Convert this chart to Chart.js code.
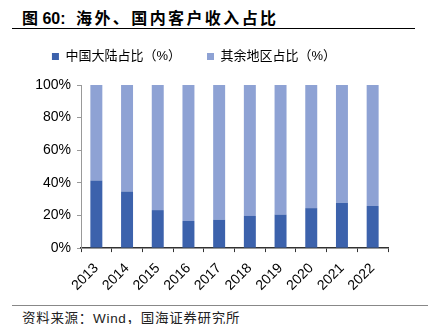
<!DOCTYPE html>
<html>
<head>
<meta charset="utf-8">
<script src="https://cdn.jsdelivr.net/npm/chart.js@4"></script>
<style>
  body { margin: 0; width: 428px; height: 324px; background: #fff; position: relative; overflow: hidden;
         font-family: "Liberation Sans", "Noto Sans CJK SC", sans-serif; }
  #title { position: absolute; left: 22px; top: 5px; font-size: 16px; font-weight: bold; color: #000; white-space: nowrap; }
  #title .cn { margin-left: 6px; letter-spacing: 2.4px; font-family: "Noto Sans CJK SC", sans-serif; }
  #line1 { position: absolute; left: 12px; top: 28px; width: 403px; height: 1px; background: #000; }
  #line2 { position: absolute; left: 12px; top: 305px; width: 416px; height: 1px; background: #888; }
  #source { position: absolute; left: 22px; top: 307px; font-size: 13.5px; letter-spacing: 0.7px; color: #222; white-space: nowrap; }
  #wrap { position: absolute; left: 0; top: 24px; width: 428px; height: 278px; }
</style>
</head>
<body>
<div id="title">图 60:  <span class="cn">海外、国内客户收入占比</span></div>
<div id="line1"></div>
<div id="wrap"><canvas id="share"></canvas></div>
<div id="line2"></div>
<div id="source">资料来源：Wind，国海证券研究所</div>
<script>
// year labels
const years = ['2013', '2014', '2015', '2016', '2017', '2018', '2019', '2020', '2021', '2022']
// share of revenue, %
const mainland = [41.5, 34.7, 23.3, 16.6, 17.4, 19.7, 20.5, 24.5, 27.8, 25.8]
const overseas = [58.5, 65.3, 76.7, 83.4, 82.6, 80.3, 79.5, 75.5, 72.2, 74.2]
const yTicks = [0, 20, 40, 60, 80, 100]

const font = "'Liberation Sans', 'Noto Sans CJK SC', sans-serif"

// push the plot down a bit below the legend
const legendGap = {
    id: 'legendGap',
    beforeInit(chart) {
        const fit = chart.legend.fit
        chart.legend.fit = function () {
            fit.bind(chart.legend)()
            this.height += 12
        }
    }
}

const ctx = document.querySelector('#share')
new Chart(ctx, {
    type: 'bar',
    data: {
        labels: years,
        datasets: [
            { label: '中国大陆占比（%）', data: mainland, backgroundColor: '#3C62AC', barPercentage: 0.39, categoryPercentage: 1 },
            { label: '其余地区占比（%）', data: overseas, backgroundColor: '#8EA2D4', barPercentage: 0.39, categoryPercentage: 1 }
        ]
    },
    options: {
        responsive: true,
        maintainAspectRatio: false,
        animation: false,
        layout: { padding: { left: 0, right: 40, top: 0, bottom: 0 } },
        plugins: {
            legend: {
                position: 'top',
                labels: {
                    boxWidth: 7, boxHeight: 7, padding: 26, color: '#000',
                    font: { family: font, size: 13 }
                }
            },
            tooltip: { enabled: false }
        },
        scales: {
            x: {
                stacked: true,
                grid: { display: true, drawOnChartArea: false, drawTicks: true, tickLength: 4, color: '#333' },
                border: { color: '#333', width: 1.5 },
                ticks: { color: '#000', maxRotation: 45, minRotation: 45, padding: 8, font: { family: font, size: 14 } }
            },
            y: {
                stacked: true,
                min: 0,
                max: 100,
                afterFit: scale => { scale.width = 81 },
                afterBuildTicks: scale => { scale.ticks = yTicks.map(v => ({ value: v })) },
                grid: { display: true, drawOnChartArea: false, drawTicks: true, tickLength: 4, color: '#999' },
                border: { color: '#999' },
                ticks: { color: '#000', padding: 6, callback: v => v + '%', font: { family: font, size: 14 } }
            }
        }
    },
    plugins: [legendGap]
})
</script>
</body>
</html>
